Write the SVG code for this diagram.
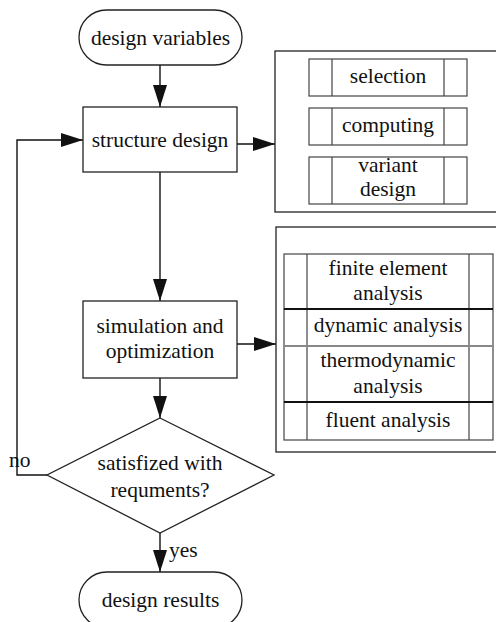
<svg xmlns="http://www.w3.org/2000/svg" width="496" height="622" viewBox="0 0 496 622">
<defs>
<marker id="ah" markerUnits="userSpaceOnUse" markerWidth="22" markerHeight="14" refX="22" refY="7" orient="auto">
<path d="M0,0 L22,7 L0,14 Z" fill="#111"/>
</marker>
<style>
text{font-family:"Liberation Serif","Times New Roman",serif;font-size:21.5px;fill:#111;text-anchor:middle}
.n{fill:#fff;stroke:#222;stroke-width:1.3}
.c{fill:none;stroke:#111;stroke-width:1.4}
.g{fill:none;stroke:#444;stroke-width:1.2}
.gl{stroke:#888;stroke-width:2}
.bl{stroke:#111;stroke-width:1.8}
</style>
</defs>
<rect width="496" height="622" fill="#fff"/>

<g id="connectors">
<path class="c" d="M160,65 V107" marker-end="url(#ah)"/>
<path class="c" d="M160,172 V301" marker-end="url(#ah)"/>
<path class="c" d="M160,378 V418" marker-end="url(#ah)"/>
<path class="c" d="M160,533 V572" marker-end="url(#ah)"/>
<path class="c" d="M47,475 H17 V140 H83" marker-end="url(#ah)"/>
<path class="c" d="M237,144 H275" marker-end="url(#ah)"/>
<path class="c" d="M237,344 H276" marker-end="url(#ah)"/>
<text x="9" y="467" style="text-anchor:start">no</text>
<text x="169" y="557" style="text-anchor:start">yes</text>
</g>

<g id="design-variables">
<rect class="n" x="79" y="10" width="163" height="55" rx="27.5"/>
<text x="160.5" y="45">design variables</text>
</g>

<g id="structure-design">
<rect class="n" x="83" y="107" width="154" height="65"/>
<text x="160" y="147">structure design</text>
</g>

<g id="simulation">
<rect class="n" x="83" y="301" width="154" height="77"/>
<text x="160" y="333">simulation and</text>
<text x="160" y="358">optimization</text>
</g>

<g id="decision">
<polygon class="n" points="160,418 274,475 160,533 47,475"/>
<text x="160" y="470">satisfized with</text>
<text x="160" y="497">requments?</text>
</g>

<g id="design-results">
<rect class="n" x="79" y="572" width="163" height="56" rx="28"/>
<text x="160.5" y="607">design results</text>
</g>

<g id="design-methods">
<rect class="n" x="275" y="51" width="240" height="161"/>
<g id="selection">
<rect class="g" x="309" y="59" width="158" height="37"/>
<path class="g" d="M332,59 V96 M444,59 V96"/>
<text x="388" y="83">selection</text>
</g>
<g id="computing">
<rect class="g" x="309" y="108" width="158" height="37"/>
<path class="g" d="M332,108 V145 M444,108 V145"/>
<text x="388" y="132">computing</text>
</g>
<g id="variant-design">
<rect class="g" x="309" y="157" width="158" height="47"/>
<path class="g" d="M332,157 V204 M444,157 V204"/>
<text x="388" y="172">variant</text>
<text x="388" y="196">design</text>
</g>
</g>

<g id="analysis-methods">
<rect class="n" x="276" y="227" width="240" height="225"/>
<rect class="g" x="284" y="254" width="209" height="186"/>
<path class="g" d="M307,254 V440 M469,254 V440"/>
<line class="bl" x1="284" y1="309" x2="493" y2="309"/>
<line class="gl" x1="284" y1="346" x2="493" y2="346"/>
<line class="bl" x1="284" y1="402" x2="493" y2="402"/>
<g id="finite-element"><text x="388" y="275">finite element</text><text x="388" y="300">analysis</text></g>
<g id="dynamic"><text x="388" y="332">dynamic analysis</text></g>
<g id="thermodynamic"><text x="388" y="367">thermodynamic</text><text x="388" y="393">analysis</text></g>
<g id="fluent"><text x="388" y="427">fluent analysis</text></g>
</g>
</svg>
